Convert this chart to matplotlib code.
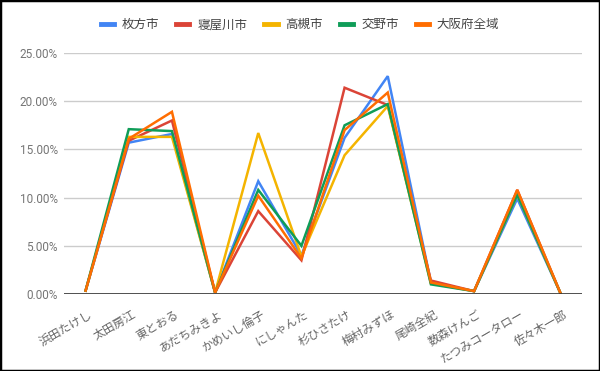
import matplotlib
matplotlib.use("Agg")
import matplotlib.pyplot as plt
from matplotlib.lines import Line2D
from matplotlib.ticker import FuncFormatter, MultipleLocator
from matplotlib.transforms import ScaledTranslation

plt.rcParams['font.family'] = ['Roboto', 'Noto Sans CJK JP', 'DejaVu Sans']

candidates = ['浜田たけし', '太田房江', '東とおる', 'あだちみきよ', 'かめいし倫子', 'にしゃんた',
              '杉ひさたけ', '梅村みずほ', '尾崎全紀', '数森けんご', 'たつみコータロー', '佐々木一郎']

series_names = ['枚方市', '寝屋川市', '高槻市', '交野市', '大阪府全域']
series_colors = ['#4285F4', '#DB4437', '#F4B400', '#0F9D58', '#FF6D01']

# vote share in percent
hirakata = [0.35, 15.7, 16.6, 0.15, 11.7, 4.0, 16.2, 22.6, 1.2, 0.3, 9.9, 0.1]
neyagawa = [0.35, 15.9, 18.0, 0.15, 8.6, 3.5, 21.4, 19.6, 1.4, 0.3, 10.8, 0.1]
takatsuki = [0.35, 16.3, 16.3, 0.15, 16.7, 3.9, 14.4, 19.5, 1.1, 0.3, 10.3, 0.1]
katano = [0.35, 17.1, 16.9, 0.15, 10.8, 5.0, 17.5, 19.7, 1.0, 0.3, 10.3, 0.1]
osaka_all = [0.35, 16.1, 18.9, 0.15, 10.2, 3.7, 17.0, 20.9, 1.2, 0.3, 10.8, 0.1]

all_series = [hirakata, neyagawa, takatsuki, katano, osaka_all]

fig = plt.figure(figsize=(6, 3.71), dpi=100)
ax = fig.add_axes([0.1067, 0.2075, 0.8633, 0.6496])

x = list(range(len(candidates)))
for vals, name, col in zip(all_series, series_names, series_colors):
    ax.plot(x, vals, color=col, lw=1.8, label=name, solid_joinstyle='miter')

ax.set_xlim(-0.5, len(candidates) - 0.5)
ax.set_ylim(0, 25)
ax.yaxis.set_major_locator(MultipleLocator(5))
ax.yaxis.set_major_formatter(FuncFormatter(lambda v, p: f'{v:.2f}%'))
ax.grid(axis='y', color='#cccccc', lw=1)
ax.axhline(0, color='#333333', lw=1.2, zorder=3)
for s in ax.spines.values():
    s.set_visible(False)

ax.tick_params(axis='y', length=0, pad=4.5, labelsize=8.5, labelcolor='#757575')
ax.tick_params(axis='x', length=0, pad=14, labelsize=8.5, labelcolor='#666666')
ax.set_xticks(x)
ax.set_xticklabels(candidates, rotation=30, ha='right', va='center', rotation_mode='anchor')
for lab in ax.get_xticklabels():
    lab.set_transform(lab.get_transform() + ScaledTranslation(0.06, 0, fig.dpi_scale_trans))

handles = [Line2D([0], [0], color=c, lw=3.5) for c in series_colors]
fig.legend(handles, series_names, loc='center', bbox_to_anchor=(0.5, 0.933), ncol=5,
           frameon=False, fontsize=9, handlelength=1.05, handletextpad=0.64,
           columnspacing=1.36, labelcolor='#444444')

fig.add_artist(plt.Rectangle((0, 0), 1, 1, transform=fig.transFigure, fill=False,
                             lw=2.5, ec='black'))

fig.savefig('out.png', dpi=100)
